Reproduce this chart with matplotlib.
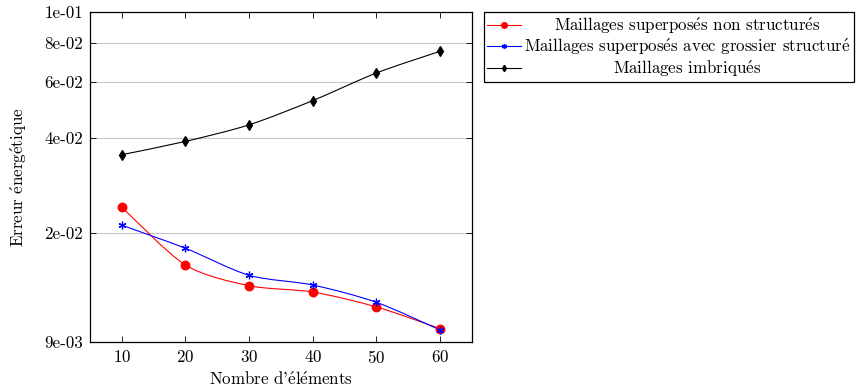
import numpy as np
import matplotlib
matplotlib.use("Agg")
import matplotlib.pyplot as plt
from matplotlib.path import Path
from matplotlib.patches import PathPatch

plt.rcParams['font.family'] = ['cmr10', 'DejaVu Serif']
plt.rcParams['mathtext.fontset'] = 'cm'
plt.rcParams['axes.formatter.use_mathtext'] = True

E = r'$\mathrm{\acute{e}}$'  # cmr10 has no é glyph, use the math accent

# data
elements = [10, 20, 30, 40, 50, 60]
err_non_struct = [0.02405, 0.01578, 0.01357, 0.01296, 0.01162, 0.00992]
err_grossier = [0.0211, 0.01783, 0.01464, 0.01364, 0.01202, 0.00982]
err_imbrique = [0.0353, 0.0389, 0.0439, 0.0524, 0.0641, 0.0751]
labels = ['Maillages superposés non structurés',
          'Maillages superposés avec grossier structuré',
          'Maillages imbriqués']
yticks = [9e-3, 2e-2, 4e-2, 6e-2, 8e-2, 1e-1]
ytick_labels = ['9e-03', '2e-02', '4e-02', '6e-02', '8e-02', '1e-01']
xticks = [10, 20, 30, 40, 50, 60]


def tex(s):
    # cmr10 draws ascii ' as a right quote
    return s.replace('é', E).replace('’', "'")


def smooth_path(x, y, tension=0.42):
    # pgfplots-like smooth curve: cubic beziers, built in (x, log y) space
    x = np.asarray(x, float)
    ly = np.log10(np.asarray(y, float))
    n = len(x)
    verts = [(x[0], ly[0])]
    codes = [Path.MOVETO]
    for i in range(n - 1):
        p0 = np.array([x[max(i - 1, 0)], ly[max(i - 1, 0)]])
        p1 = np.array([x[i], ly[i]])
        p2 = np.array([x[i + 1], ly[i + 1]])
        p3 = np.array([x[min(i + 2, n - 1)], ly[min(i + 2, n - 1)]])
        c1 = p1 + (p2 - p0) * tension / 3.0
        c2 = p2 - (p3 - p1) * tension / 3.0
        verts += [tuple(c1), tuple(c2), tuple(p2)]
        codes += [Path.CURVE4] * 3
    verts = [(vx, 10 ** vy) for vx, vy in verts]
    return Path(verts, codes)


fig = plt.figure(figsize=(8.58, 3.92), dpi=100)
ax = fig.add_axes([0.1049, 0.1276, 0.4452, 0.8418])
ax.set_yscale('log')

series = [
    (err_non_struct, 'red', 'o', 6.2, labels[0]),
    (err_grossier, 'blue', (6, 2, 0), 5.5, labels[1]),
    (err_imbrique, 'black', 'd', 5, labels[2]),
]
handles = []
for vals, col, mk, ms, lab in series:
    ax.add_patch(PathPatch(smooth_path(elements, vals), facecolor='none',
                           edgecolor=col, lw=0.8, zorder=3))
    ax.plot(elements, vals, ls='none', marker=mk, ms=ms, color=col,
            mec=col, mew=0.9, zorder=4)
    h, = ax.plot([], [], color=col, lw=0.8, marker=mk, ms=ms * 0.65, mec=col, label=tex(lab))
    handles.append(h)

fs = 12.2
ax.set_xlim(5, 65)
ax.set_ylim(9e-3, 1e-1)
ax.set_xticks(xticks)
ax.set_yticks(yticks)
ax.set_yticklabels(ytick_labels)
ax.yaxis.set_minor_locator(matplotlib.ticker.NullLocator())
ax.tick_params(direction='in', top=True, right=True, length=4, width=0.6,
               labelsize=fs, pad=5)
ax.grid(axis='y', color='#c8c8c8', lw=0.8)
ax.set_axisbelow(True)
for s in ax.spines.values():
    s.set_linewidth(0.9)
ax.set_xlabel(tex("Nombre d’éléments"), fontsize=fs, labelpad=3)
ax.set_ylabel(tex('Erreur énergétique'), fontsize=fs, labelpad=11)

leg = fig.legend(handles=handles, loc='upper left', bbox_to_anchor=(0.5641, 0.9694),
                 borderaxespad=0, fancybox=False, edgecolor='black', framealpha=1,
                 fontsize=fs, handlelength=2.0, handletextpad=0.15, labelspacing=0.05,
                 borderpad=0.2)
leg.get_frame().set_linewidth(0.9)

# center the legend texts like pgfplots does
fig.canvas.draw()
r = fig.canvas.get_renderer()
widths = [t.get_window_extent(r).width for t in leg.get_texts()]
wmax = max(widths)
for t, w in zip(leg.get_texts(), widths):
    t.set_position(((wmax - w) / 2.0, 0))

fig.savefig('out.png', dpi=100)
